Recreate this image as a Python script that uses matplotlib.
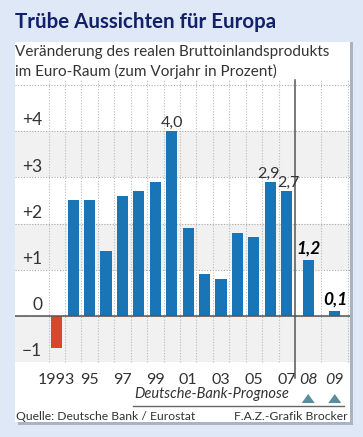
import matplotlib
matplotlib.use('Agg')
import matplotlib.pyplot as plt
import matplotlib.transforms as mtrans
from matplotlib.patches import Rectangle, Polygon
import numpy as np

# data
years = [1993, 1994, 1995, 1996, 1997, 1998, 1999, 2000, 2001, 2002, 2003,
         2004, 2005, 2006, 2007, 2008, 2009]
values = [-0.7, 2.5, 2.5, 1.4, 2.6, 2.7, 2.9, 4.0, 1.9, 0.9, 0.8,
          1.8, 1.7, 2.9, 2.7, 1.2, 0.1]
forecast = [False] * 15 + [True, True]
tick_years = [1993, 1995, 1997, 1999, 2001, 2003, 2005, 2007, 2008, 2009]
tick_text = ['1993', '95', '97', '99', '01', '03', '05', '07', '08', '09']
value_labels = {2000: '4,0', 2006: '2,9', 2007: '2,7', 2008: '1,2', 2009: '0,1'}
yticks = [-1, 0, 1, 2, 3, 4]
ytick_text = ['\u22121', '0', '+1', '+2', '+3', '+4']

W, H = 363, 437
BG = '#dfe8f6'
BLUE = '#1a75b6'
RED = '#d7482a'
NAVY = '#13216a'
TXT = '#333333'
FONT = 'Lato'
plt.rcParams['font.family'] = [FONT, 'DejaVu Sans']

fig = plt.figure(figsize=(W / 100, H / 100), dpi=100, facecolor=BG)

def fx(px):
    return px / W

def fy(py):
    return 1 - py / H

# panel with shadow
fig.patches.append(Rectangle((fx(18), fy(425)), fx(335), 383 / H, transform=fig.transFigure,
                             facecolor='#a9b3c2', edgecolor='none', zorder=-2))
fig.patches.append(Rectangle((fx(15), fy(422)), fx(335), 380 / H, transform=fig.transFigure,
                             facecolor='white', edgecolor='none', zorder=-1))

fig.text(fx(15), fy(22), 'Trübe Aussichten für Europa', fontsize=14.8, fontweight='bold',
         color=NAVY, va='center', ha='left')
fig.text(fx(15), fy(52), 'Veränderung des realen Bruttoinlandsprodukts', fontsize=11,
         color=TXT, va='center', ha='left')
fig.text(fx(15), fy(71), 'im Euro-Raum (zum Vorjahr in Prozent)', fontsize=11,
         color=TXT, va='center', ha='left')

ax = fig.add_axes([fx(15), fy(362), fx(335), 277 / H])
ax.set_facecolor('none')

# x positions: regular cells of 1, forecast cells wider
fc_w = 1.616
xpos = []
for i, f in enumerate(forecast):
    if not f:
        xpos.append(i)
    else:
        k = i - forecast.index(True)
        xpos.append(14.5 + fc_w / 2 + k * fc_w)
xpos = np.array(xpos)
right_edge = 14.5 + 2 * fc_w

ax.set_xlim(-2.54, right_edge + 0.12)
ax.set_ylim(-1, 5)

# alternating bands
for b in [-1, 1, 3]:
    ax.axhspan(b, b + 1, color='#f1f1f1', zorder=0, lw=0)

# grid
for y in range(-1, 6):
    ax.axhline(y, color='#aaaaaa', lw=0.8, ls=(0, (1, 1.5)), zorder=1)
vlines = list(np.arange(-0.5, 14.5, 1.0)) + [14.5 + fc_w, right_edge]
for v in vlines:
    ax.plot([v, v], [-1, 5.1], color='#bbbbbb', lw=0.8, ls=(0, (1, 1.5)), zorder=1, clip_on=False)

colors = [RED if v < 0 else BLUE for v in values]
ax.bar(xpos, values, width=0.68, color=colors, zorder=3)
ax.axhline(0, color='#555555', lw=1.1, zorder=4)

# separator
ax.plot([14.5, 14.5], [-1.35, 5.1], color='#555555', lw=1.1, zorder=5, clip_on=False)

# y labels
for t, s in zip(yticks, ytick_text):
    ax.text(-0.88, t + 0.06, s, ha='right', va='bottom', fontsize=12.5, color=TXT, zorder=5)

# value labels
for yr, s in value_labels.items():
    i = years.index(yr)
    if forecast[i]:
        ax.text(xpos[i] + 0.05, values[i] + 0.08, s, ha='center', va='bottom', fontsize=12.5,
                fontweight='bold', fontstyle='italic', color='black', zorder=6)
    else:
        dx = 0.12 if yr == 2007 else (-0.1 if yr == 2006 else 0.0)
        ax.text(xpos[i] + dx, values[i] + 0.03, s, ha='center', va='bottom', fontsize=11.5,
                color=TXT, zorder=6)

# x tick labels
tr = mtrans.blended_transform_factory(ax.transData, fig.transFigure)
for yr, s in zip(tick_years, tick_text):
    i = years.index(yr)
    ital = forecast[i]
    ax.text(xpos[i], fy(380), s, transform=tr, ha='center', va='center', fontsize=11.5,
            color=TXT, fontstyle='italic' if ital else 'normal', clip_on=False)

fig.text(fx(289), fy(394), 'Deutsche-Bank-Prognose', fontsize=10.5, fontstyle='italic',
         color=TXT, ha='right', va='center')
fig.add_artist(plt.Line2D([fx(133), fx(344)], [fy(406), fy(406)], transform=fig.transFigure,
                          color='#666666', lw=1))
for i in [15, 16]:
    xc = ax.transData.transform((xpos[i], 0))[0] / W
    tri = Polygon([(xc - fx(6.5), fy(403)), (xc + fx(6.5), fy(403)), (xc, fy(394))],
                  closed=True, transform=fig.transFigure, facecolor='#5a8e9f', edgecolor='none',
                  zorder=3)
    fig.patches.append(tri)

fig.text(fx(16), fy(416), 'Quelle: Deutsche Bank / Eurostat', fontsize=8.7, color=TXT,
         ha='left', va='center')
fig.text(fx(348), fy(416), 'F.A.Z.-Grafik Brocker', fontsize=8.7, color=TXT,
         ha='right', va='center')

ax.axis('off')
fig.savefig('out.png', dpi=100, facecolor=BG)
